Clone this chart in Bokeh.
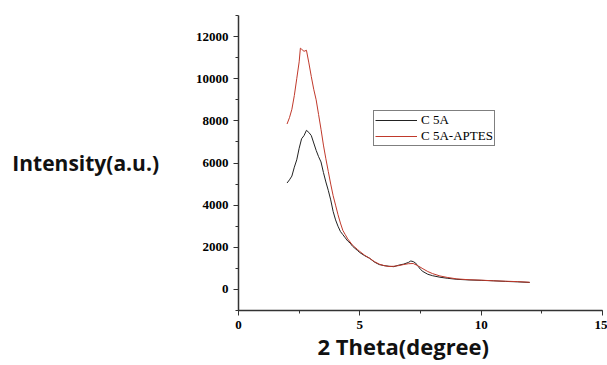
from bokeh.plotting import figure
from bokeh.models import Range1d, SingleIntervalTicker, Legend, LegendItem, Title
from bokeh.embed import file_html
from bokeh.resources import INLINE

# C 5A (black)
x_c5a = [2.0, 2.1, 2.2, 2.3, 2.4, 2.5, 2.6, 2.7, 2.8, 2.9, 3.0, 3.1, 3.2, 3.3, 3.4,
         3.5, 3.6, 3.7, 3.8, 3.9, 4.0, 4.1, 4.2, 4.3, 4.4, 4.5, 4.6, 4.7, 4.8, 4.9,
         5.0, 5.2, 5.4, 5.6, 5.8, 6.0, 6.2, 6.4, 6.6, 6.8, 7.0, 7.1, 7.2, 7.3, 7.4,
         7.5, 7.6, 7.8, 8.0, 8.3, 8.6, 9.0, 9.5, 10.0, 10.5, 11.0, 11.5, 12.0]
y_c5a = [5050, 5200, 5380, 5800, 6150, 6700, 7150, 7300, 7550, 7450, 7300, 6950, 6600, 6300, 6050,
         5550, 5100, 4700, 4250, 3700, 3300, 3000, 2750, 2600, 2450, 2300, 2200, 2050, 1950, 1850,
         1750, 1600, 1480, 1300, 1180, 1130, 1100, 1080, 1150, 1200, 1280, 1350, 1320, 1250, 1100,
         950, 850, 720, 650, 580, 530, 480, 450, 430, 410, 380, 360, 330]

# C 5A-APTES (red)
x_apt = [2.0, 2.1, 2.2, 2.3, 2.4, 2.5, 2.55, 2.6, 2.7, 2.8, 2.9, 3.0, 3.1, 3.2, 3.3,
         3.4, 3.5, 3.6, 3.7, 3.8, 3.9, 4.0, 4.1, 4.2, 4.3, 4.4, 4.5, 4.6, 4.7, 4.8,
         4.9, 5.0, 5.2, 5.4, 5.6, 5.8, 6.0, 6.2, 6.4, 6.6, 6.8, 7.0, 7.2, 7.4, 7.6,
         7.8, 8.0, 8.3, 8.6, 9.0, 9.5, 10.0, 10.5, 11.0, 11.5, 12.0]
y_apt = [7850, 8150, 8550, 9200, 10000, 10800, 11450, 11400, 11300, 11350, 10750, 10100, 9500, 9000, 8300,
         7600, 6850, 6200, 5600, 5000, 4450, 4000, 3550, 3150, 2800, 2600, 2400, 2250, 2100, 2000,
         1900, 1800, 1620, 1480, 1320, 1200, 1130, 1090, 1100, 1130, 1180, 1220, 1230, 1120, 980,
         850, 750, 640, 570, 500, 460, 440, 410, 390, 370, 340]

series_names = ["C 5A", "C 5A-APTES"]
x_label = "2 Theta(degree)"
y_label = "Intensity(a.u.)"

p = figure(frame_width=364, frame_height=295, output_backend="svg", toolbar_location=None,
           x_range=Range1d(0, 15), y_range=Range1d(-1000, 13000),
           min_border_left=238, min_border_right=5, min_border_top=15, min_border_bottom=55)
p.grid.visible = False
p.outline_line_color = None

r1 = p.line(x_c5a, y_c5a, line_color="#222222", line_width=1)
r2 = p.line(x_apt, y_apt, line_color="#c0392b", line_width=1)

for ax, interval in ((p.xaxis[0], 5), (p.yaxis[0], 2000)):
    ax.ticker = SingleIntervalTicker(interval=interval, num_minor_ticks=2)
    ax.major_label_text_font = "Liberation Serif"
    ax.major_label_text_font_style = "bold"
    ax.major_label_text_font_size = "13px"
    ax.major_label_text_color = "black"
    ax.axis_line_color = "#333333"
    ax.axis_line_width = 1.5
    ax.major_tick_line_color = "#333333"
    ax.minor_tick_line_color = "#333333"
    ax.major_tick_in = 0
    ax.major_tick_out = 5
    ax.minor_tick_in = 0
    ax.minor_tick_out = 3

yax = p.yaxis[0]
yax.axis_label = y_label
yax.axis_label_orientation = "horizontal"
yax.axis_label_text_font = "Open Sans"
yax.axis_label_text_font_style = "bold"
yax.axis_label_text_font_size = "21px"
yax.axis_label_text_color = "#111111"
yax.axis_label_standoff = 34

xtitle = Title(text=x_label, align="left", offset=79, standoff=-5,
               text_font="Open Sans", text_font_style="bold", text_font_size="22px",
               text_color="#111111")
p.add_layout(xtitle, "below")

legend = Legend(items=[LegendItem(label=series_names[0], renderers=[r1]),
                       LegendItem(label=series_names[1], renderers=[r2])],
                location=(135, 164),
                label_text_font="Liberation Serif", label_text_font_size="13px",
                label_text_color="black", label_height=12, glyph_height=12, glyph_width=42,
                label_standoff=4, spacing=0, padding=1, margin=0,
                border_line_color="black", border_line_width=1,
                background_fill_color="white")
p.add_layout(legend, "center")

open("out.html", "w").write(file_html(p, INLINE))
